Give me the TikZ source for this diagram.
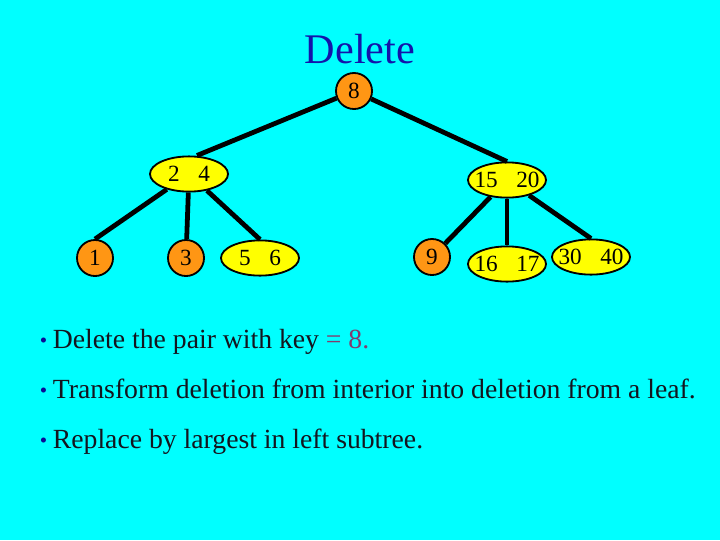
\documentclass[tikz,border=0pt]{standalone}
\usepackage{fontspec}
\setmainfont{Liberation Serif}
\usetikzlibrary{shapes.geometric, positioning}
\definecolor{bgcyan}{RGB}{0,255,255}
\definecolor{keyorange}{RGB}{255,150,20}
\definecolor{keyyellow}{RGB}{255,255,0}
\definecolor{titleblue}{RGB}{20,20,170}
\definecolor{dotblue}{RGB}{10,10,150}
\definecolor{textdark}{RGB}{20,20,30}
\definecolor{keypurple}{RGB}{130,60,110}
\newcommand{\keypair}[2]{\makebox[0pt]{#1\hspace{0.8em}#2}}
\newcommand{\bdot}{\textcolor{dotblue}{\fontsize{15}{15}\selectfont\raisebox{0.1ex}{\textbullet}}\hspace{0.2em}}

\begin{document}
\begin{tikzpicture}[
    % one unit = one pixel of the 720x540 slide
    x=0.025cm, y=-0.025cm,
    every node/.style={font=\fontsize{16.5}{19}\selectfont},
    leaf/.style={circle, draw=black, line width=1.3pt, fill=keyorange, minimum size=0.9cm, inner sep=0pt},
    pair/.style={ellipse, draw=black, line width=1.3pt, fill=keyyellow, minimum width=1.95cm, minimum height=0.88cm, inner sep=0pt},
    link/.style={line width=3.4pt},
    bullet/.style={anchor=base west, font=\fontsize{19.7}{23}\selectfont, text=textdark}
]
    % --- background ---
    \fill[bgcyan] (0,0) rectangle (720,540);
    \useasboundingbox (0,0) rectangle (720,540);

    \node[anchor=base, font=\fontsize{30}{34}\selectfont, text=titleblue] (title) at (360,63) {Delete};

    % --- tree nodes ---
    \node[leaf] (r) at (354,91) {8};
    \node[pair] (a) at (189,174) {\keypair{2}{4}};
    \node[pair] (b) at (507,180) {\keypair{15}{20}};
    \node[leaf] (a1) at (95,258) {1};
    \node[leaf] (a2) at (186,258) {3};
    \node[pair] (a3) at (260,258) {\keypair{5}{6}};
    \node[leaf] (b1) at (432,257) {9};
    \node[pair] (b2) at (507,264) {\keypair{16}{17}};
    \node[pair] (b3) at (591,257) {\keypair{30}{40}};

    % --- links ---
    \draw[link] (r) -- ([xshift=0.2cm]a.north);
    \draw[link] (r) -- (b.north);
    \draw[link] (a) -- (a1.north);
    \draw[link] (a) -- (a2);
    \draw[link] (a) -- (a3.north);
    \draw[link] (b) -- (b1);
    \draw[link] (b) -- (b2);
    \draw[link] (b) -- (b3.north);

    % --- bullet text ---
    \node[bullet] (t1) at (35,348) {\bdot Delete the pair with key \textcolor{keypurple}{= 8.}};
    \node[bullet] (t2) at (35,398) {\bdot Transform deletion from interior into deletion from a leaf.};
    \node[bullet] (t3) at (35,448) {\bdot Replace by largest in left subtree.};
\end{tikzpicture}
\end{document}
